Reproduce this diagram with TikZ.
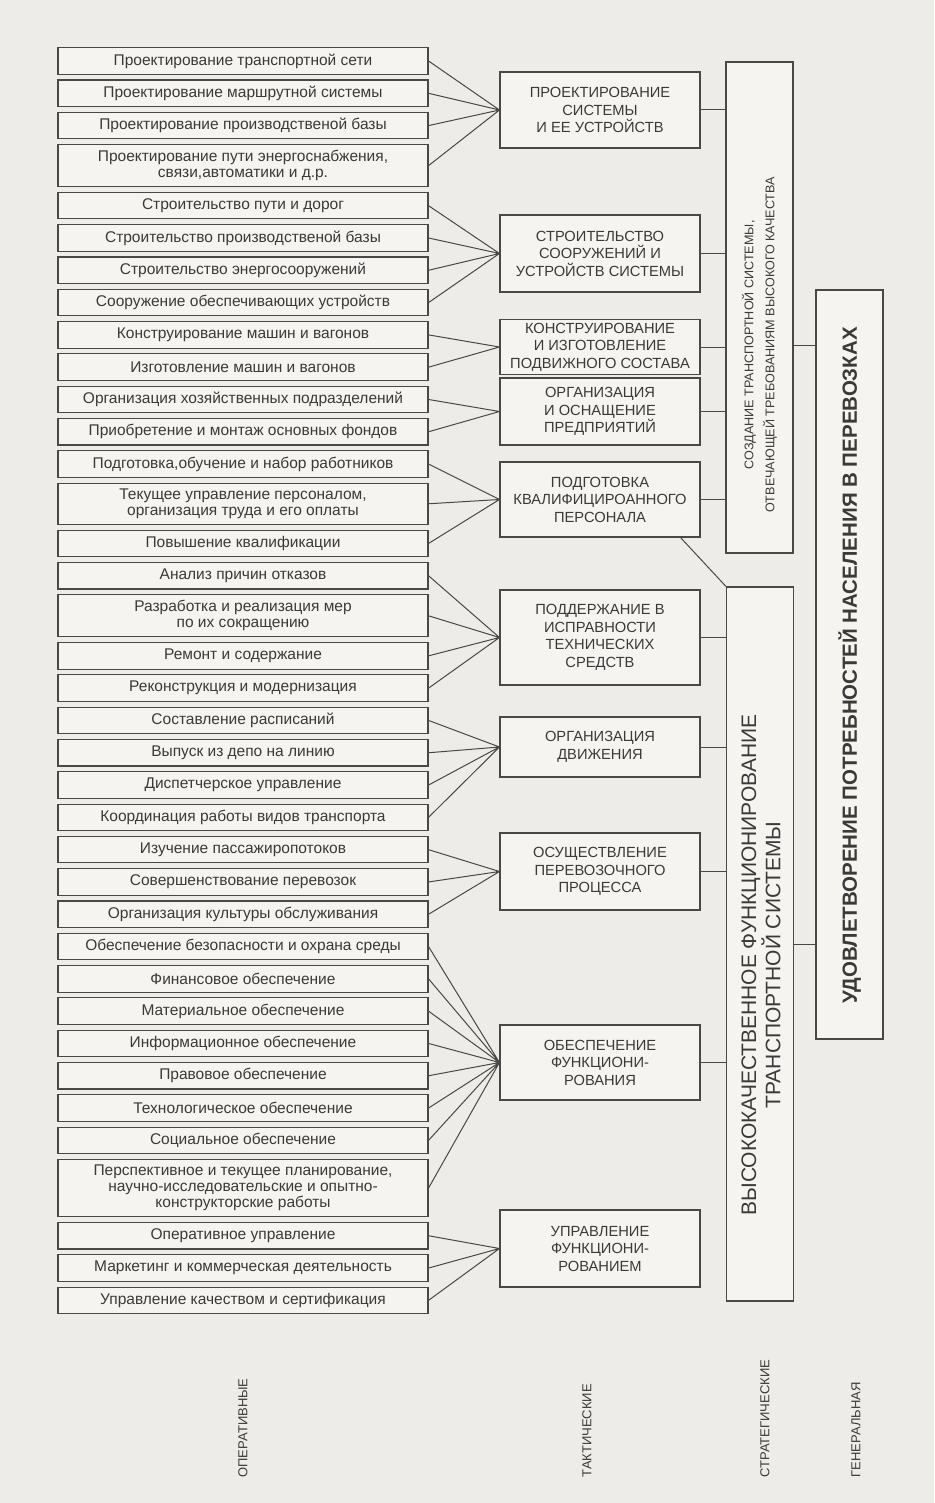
\documentclass[tikz,border=0pt]{standalone}
\usepackage{fontspec}
\setmainfont{Liberation Sans}
\usetikzlibrary{positioning}
\definecolor{paper}{RGB}{237,236,232}
\definecolor{boxfill}{RGB}{245,244,241}
\definecolor{inkgray}{RGB}{72,72,72}
\definecolor{textgray}{RGB}{58,58,58}
\tikzset{
  opbox/.style={rectangle, draw=inkgray, fill=boxfill, line width=1.1pt,
    minimum width=370pt, minimum height=26.5pt, inner ysep=5.7pt,
    align=center, text=textgray, font=\fontsize{15.5}{16}\selectfont},
  tacbox/.style={rectangle, draw=inkgray, fill=boxfill, line width=1.1pt,
    minimum width=200pt, align=center, text=textgray,
    font=\fontsize{14.7}{17.5}\selectfont},
  stratbox/.style={rectangle, draw=inkgray, fill=boxfill, line width=1.1pt,
    minimum width=67pt},
  vtext/.style={rotate=90, align=center, text=textgray},
  link/.style={draw=inkgray, line width=1pt},
  levellabel/.style={rotate=90, anchor=west, text=textgray,
    font=\fontsize{13}{15}\selectfont},
}
\begin{document}
\begin{tikzpicture}[x=1pt, y=-1pt, node distance=4.7pt]
  \useasboundingbox (0,0) rectangle (934,1503);
  \fill[paper] (0,0) rectangle (934,1503);

  %% -- operative tasks --------------------------------------------
  \node[opbox] (l1) at (243,61) {Проектирование транспортной сети};
  \node[opbox, below=of l1] (l2) {Проектирование маршрутной системы};
  \node[opbox, below=of l2] (l3) {Проектирование производственой базы};
  \node[opbox, below=of l3] (l4)
    {Проектирование пути энергоснабжения,\\связи,автоматики и д.р.};
  \node[opbox, below=of l4] (l5) {Строительство пути и дорог};
  \node[opbox, below=of l5] (l6) {Строительство производственой базы};
  \node[opbox, below=of l6] (l7) {Строительство энергосооружений};
  \node[opbox, below=of l7] (l8) {Сооружение обеспечивающих устройств};
  \node[opbox, below=of l8] (l9) {Конструирование машин и вагонов};
  \node[opbox, below=of l9] (l10) {Изготовление машин и вагонов};
  \node[opbox, below=of l10] (l11) {Организация хозяйственных подразделений};
  \node[opbox, below=of l11] (l12) {Приобретение и монтаж основных фондов};
  \node[opbox, below=of l12] (l13) {Подготовка,обучение и набор работников};
  \node[opbox, below=of l13] (l14)
    {Текущее управление персоналом,\\организация труда и его оплаты};
  \node[opbox, below=of l14] (l15) {Повышение квалификации};
  \node[opbox, below=of l15] (l16) {Анализ причин отказов};
  \node[opbox, below=of l16] (l17)
    {Разработка и реализация мер\\по их сокращению};
  \node[opbox, below=of l17] (l18) {Ремонт и содержание};
  \node[opbox, below=of l18] (l19) {Реконструкция и модернизация};
  \node[opbox, below=of l19] (l20) {Составление расписаний};
  \node[opbox, below=of l20] (l21) {Выпуск из депо на линию};
  \node[opbox, below=of l21] (l22) {Диспетчерское управление};
  \node[opbox, below=of l22] (l23) {Координация работы видов транспорта};
  \node[opbox, below=of l23] (l24) {Изучение пассажиропотоков};
  \node[opbox, below=of l24] (l25) {Совершенствование перевозок};
  \node[opbox, below=of l25] (l26) {Организация культуры обслуживания};
  \node[opbox, below=of l26] (l27) {Обеспечение безопасности и охрана среды};
  \node[opbox, below=of l27] (l28) {Финансовое обеспечение};
  \node[opbox, below=of l28] (l29) {Материальное обеспечение};
  \node[opbox, below=of l29] (l30) {Информационное обеспечение};
  \node[opbox, below=of l30] (l31) {Правовое обеспечение};
  \node[opbox, below=of l31] (l32) {Технологическое обеспечение};
  \node[opbox, below=of l32] (l33) {Социальное обеспечение};
  \node[opbox, below=of l33] (l34)
    {Перспективное и текущее планирование,\\научно-исследовательские и опытно-\\конструкторские работы};
  \node[opbox, below=of l34] (l35) {Оперативное управление};
  \node[opbox, below=of l35] (l36) {Маркетинг и коммерческая деятельность};
  \node[opbox, below=of l36] (l37) {Управление качеством и сертификация};

  %% -- tactical tasks ---------------------------------------------
  \node[tacbox, minimum height=76pt] (m1) at (600,110)
    {ПРОЕКТИРОВАНИЕ\\СИСТЕМЫ\\И ЕЕ УСТРОЙСТВ};
  \node[tacbox, minimum height=77pt] (m2) at (600,253.5)
    {СТРОИТЕЛЬСТВО\\СООРУЖЕНИЙ И\\УСТРОЙСТВ СИСТЕМЫ};
  \node[tacbox, minimum height=54pt] (m3) at (600,347)
    {КОНСТРУИРОВАНИЕ\\И ИЗГОТОВЛЕНИЕ\\ПОДВИЖНОГО СОСТАВА};
  \node[tacbox, minimum height=67pt] (m4) at (600,411.5)
    {ОРГАНИЗАЦИЯ\\И ОСНАЩЕНИЕ\\ПРЕДПРИЯТИЙ};
  \node[tacbox, minimum height=75pt] (m5) at (600,499.5)
    {ПОДГОТОВКА\\КВАЛИФИЦИРОАННОГО\\ПЕРСОНАЛА};
  \node[tacbox, minimum height=95pt] (m6) at (600,637.5)
    {ПОДДЕРЖАНИЕ В\\ИСПРАВНОСТИ\\ТЕХНИЧЕСКИХ\\СРЕДСТВ};
  \node[tacbox, minimum height=60pt] (m7) at (600,747)
    {ОРГАНИЗАЦИЯ\\ДВИЖЕНИЯ};
  \node[tacbox, minimum height=77pt] (m8) at (600,871.5)
    {ОСУЩЕСТВЛЕНИЕ\\ПЕРЕВОЗОЧНОГО\\ПРОЦЕССА};
  \node[tacbox, minimum height=75pt] (m9) at (600,1062.5)
    {ОБЕСПЕЧЕНИЕ\\ФУНКЦИОНИ-\\РОВАНИЯ};
  \node[tacbox, minimum height=77pt] (m10) at (600,1248.5)
    {УПРАВЛЕНИЕ\\ФУНКЦИОНИ-\\РОВАНИЕМ};

  %% -- fans into tactical tasks -----------------------------------
  \draw[link] (l1.east) -- (m1.west) (l2.east) -- (m1.west)
              (l3.east) -- (m1.west) (l4.east) -- (m1.west);
  \draw[link] (l5.east) -- (m2.west) (l6.east) -- (m2.west)
              (l7.east) -- (m2.west) (l8.east) -- (m2.west);
  \draw[link] (l9.east) -- (m3.west) (l10.east) -- (m3.west);
  \draw[link] (l11.east) -- (m4.west) (l12.east) -- (m4.west);
  \draw[link] (l13.east) -- (m5.west) (l14.east) -- (m5.west)
              (l15.east) -- (m5.west);
  \draw[link] (l16.east) -- (m6.west) (l17.east) -- (m6.west)
              (l18.east) -- (m6.west) (l19.east) -- (m6.west);
  \draw[link] (l20.east) -- (m7.west) (l21.east) -- (m7.west)
              (l22.east) -- (m7.west) (l23.east) -- (m7.west);
  \draw[link] (l24.east) -- (m8.west) (l25.east) -- (m8.west)
              (l26.east) -- (m8.west);
  \draw[link] (l27.east) -- (m9.west) (l28.east) -- (m9.west)
              (l29.east) -- (m9.west) (l30.east) -- (m9.west)
              (l31.east) -- (m9.west) (l32.east) -- (m9.west)
              (l33.east) -- (m9.west) (l34.east) -- (m9.west);
  \draw[link] (l35.east) -- (m10.west) (l36.east) -- (m10.west)
              (l37.east) -- (m10.west);

  %% -- strategic and general goals --------------------------------
  \node[stratbox, minimum height=491pt] (s1) at (759.5,307.5) {};
  \node[vtext, font=\fontsize{12.6}{21}\selectfont] (s1txt) at (759.5,345)
    {СОЗДАНИЕ ТРАНСПОРТНОЙ СИСТЕМЫ,\\ОТВЕЧАЮЩЕЙ ТРЕБОВАНИЯМ ВЫСОКОГО КАЧЕСТВА};
  \node[stratbox, minimum height=714pt] (s2) at (760,944) {};
  \node[vtext, font=\fontsize{21}{22}\selectfont] (s2txt) at (761,965)
    {ВЫСОКОКАЧЕСТВЕННОЕ ФУНКЦИОНИРОВАНИЕ\\ТРАНСПОРТНОЙ СИСТЕМЫ};
  \node[stratbox, minimum height=749pt] (g) at (849.5,664.5) {};
  \node[vtext, font=\bfseries\fontsize{20.5}{22}\selectfont] (gtxt) at (849.5,665.5)
    {УДОВЛЕТВОРЕНИЕ ПОТРЕБНОСТЕЙ НАСЕЛЕНИЯ В ПЕРЕВОЗКАХ};

  \draw[link] (m1.east) -- (m1.east -| s1.west);
  \draw[link] (m2.east) -- (m2.east -| s1.west);
  \draw[link] (m3.east) -- (m3.east -| s1.west);
  \draw[link] (m4.east) -- (m4.east -| s1.west);
  \draw[link] (m5.east) -- (m5.east -| s1.west);
  \draw[link] ([xshift=-20pt]m5.south east) -- (s2.north west);
  \draw[link] (m6.east) -- (m6.east -| s2.west);
  \draw[link] (m7.east) -- (m7.east -| s2.west);
  \draw[link] (m8.east) -- (m8.east -| s2.west);
  \draw[link] (m9.east) -- (m9.east -| s2.west);
  \draw[link] ([yshift=-37.5pt]s1.east) -- ([yshift=-37.5pt]s1.east -| g.west);
  \draw[link] (s2.east) -- (s2.east -| g.west);

  %% -- level captions ---------------------------------------------
  \node[levellabel] (lvop) at (243,1481) {ОПЕРАТИВНЫЕ};
  \node[levellabel] (lvtac) at (587,1481) {ТАКТИЧЕСКИЕ};
  \node[levellabel] (lvstr) at (765,1481) {СТРАТЕГИЧЕСКИЕ};
  \node[levellabel] (lvgen) at (856,1481) {ГЕНЕРАЛЬНАЯ};
\end{tikzpicture}
\end{document}
